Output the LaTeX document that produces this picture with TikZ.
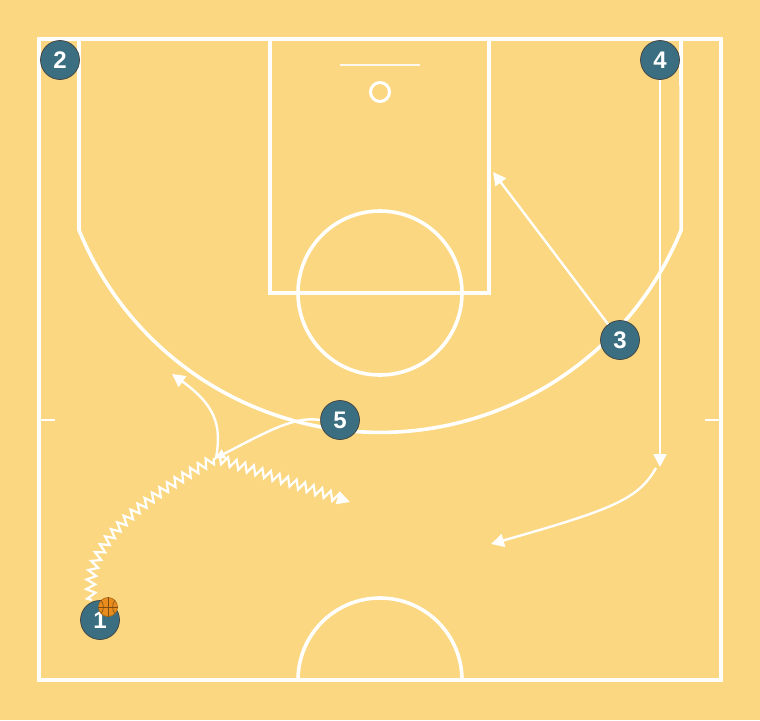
\documentclass[tikz,border=0pt]{standalone}
\usepackage{fontspec}
\setmainfont{Liberation Sans}
\usetikzlibrary{arrows.meta,decorations.pathmorphing}
\definecolor{bg}{RGB}{250,215,128}
\definecolor{pl}{RGB}{58,110,128}
\definecolor{ballc}{RGB}{232,140,30}
\begin{document}
\begin{tikzpicture}[x=1pt,y=-1pt,
 court/.style={draw=white,line width=3.6pt},
 thinline/.style={draw=white,line width=2.5pt},
 player/.style={circle,fill=pl,draw=black!75,line width=0.7pt,minimum size=39pt,inner sep=0pt,text=white,font=\bfseries\fontsize{24}{24}\selectfont},
 move/.style={draw=white,line width=2.4pt,-{Triangle[length=13pt,width=13pt]}},
 screenmove/.style={draw=white,line width=2.4pt,-{Triangle[length=9pt,width=10pt]}},
 dribble/.style={draw=white,line width=2.2pt,decorate,decoration={zigzag,amplitude=4.5pt,segment length=9pt}},
 dribblearrow/.style={draw=white,line width=2.2pt,decorate,decoration={zigzag,amplitude=4.5pt,segment length=9pt,post length=10pt},-{Triangle[length=13pt,width=13pt]}},
]
\fill[bg] (0,0) rectangle (760,720);
\useasboundingbox (0,0) rectangle (760,720);
% court
\draw[court] (39,39) rectangle (721,680);
\draw[court] (270,39) rectangle (489,293);
\draw[court] (380,293) circle (82);
\draw[court] (79,39) -- (79,230) arc[start angle=157.8,end angle=22.2,radius=325.2] -- (681,39);
\draw[court] (298,680) arc[start angle=180,end angle=360,radius=82];
\draw[thinline] (39,420) -- (55,420);
\draw[thinline] (705,420) -- (721,420);
\draw[draw=white!85!bg,line width=1.8pt] (340,65) -- (420,65);
\draw[thinline,line width=3pt] (380,92) circle (9.5);
% coordinates
\coordinate (scr) at (216,458);
\coordinate (d0) at (92,600);
\coordinate (d2) at (350,502);
\coordinate (r1) at (172,374);
\coordinate (c3) at (493,172);
\coordinate (c4) at (660,467);
\coordinate (c4s) at (656,468);
\coordinate (c4b) at (491,544);
% players
\node[player] (p1) at (100,620) {1};
\node[player] (p2) at (60,60) {2};
\node[player] (p3) at (620,340) {3};
\node[player] (p4) at (660,60) {4};
% movements
\draw[move] (p3) -- (c3);
\draw[move] (p4) -- (c4);
\draw[move] (c4s) .. controls (638,500) and (610,510) .. (c4b);
\draw[move] (scr) .. controls (222,425) and (215,405) .. (r1);
\draw[dribble] (d0) .. controls (82,550) and (130,505) .. (scr);
\draw[dribblearrow] (scr) .. controls (260,472) .. (d2);
\node[player] (p5) at (340,420) {5};
\draw[screenmove] (p5.west) .. controls (295,416) and (270,430) .. (scr);
% ball
\node[circle,fill=ballc,draw=ballc!75!black,line width=0.7pt,minimum size=19pt,inner sep=0pt] (ball) at (108,607) {};
\draw[ballc!55!black,line width=0.6pt] (ball.north) -- (ball.south) (ball.west) -- (ball.east);
\draw[ballc!55!black,line width=0.6pt] (ball.north west) to[bend left=35] (ball.south west);
\draw[ballc!55!black,line width=0.6pt] (ball.north east) to[bend right=35] (ball.south east);
\end{tikzpicture}
\end{document}
